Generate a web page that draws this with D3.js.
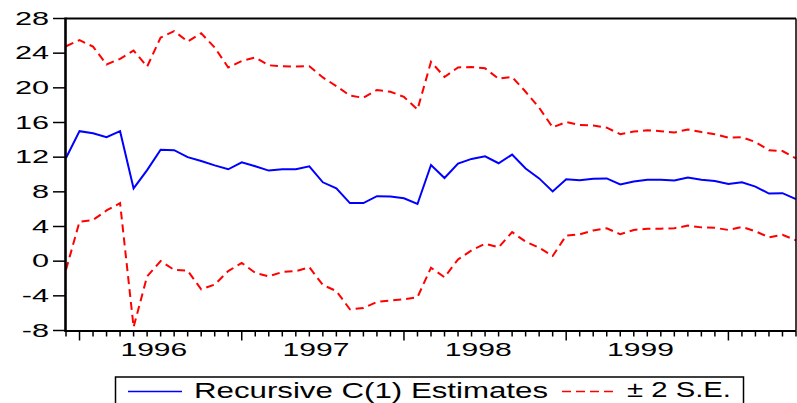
<!DOCTYPE html>
<html>
<head>
<meta charset="utf-8">
<script src="https://cdn.jsdelivr.net/npm/d3@7"></script>
<style>
  body { margin: 0; background: #fff; }
  text { font-family: "Liberation Sans", Arial, sans-serif; fill: #000; }
</style>
</head>
<body>
<script>
(function() {

    const width = 797;
    const height = 403;

    // monthly observations, Dec 1995 .. Jun 2000
    const startDate = new Date(1995, 11, 1);

    const recursiveC1 = [11.9, 15.0, 14.75, 14.3, 15.0, 8.4, 10.5, 12.85, 12.8, 12.0,
        11.55, 11.05, 10.6, 11.4, 10.95, 10.45, 10.6, 10.6, 10.95, 9.1,
        8.4, 6.7, 6.7, 7.5, 7.45, 7.25, 6.6, 11.1, 9.6, 11.25,
        11.8, 12.1, 11.3, 12.3, 10.7, 9.55, 8.05, 9.45, 9.35, 9.5,
        9.55, 8.85, 9.2, 9.4, 9.4, 9.3, 9.65, 9.4, 9.25, 8.9,
        9.1, 8.6, 7.8, 7.85, 7.15];

    const upperBand = [24.8, 25.5, 24.75, 22.7, 23.35, 24.3, 22.45, 25.8, 26.55, 25.35,
        26.3, 24.65, 22.35, 23.1, 23.5, 22.6, 22.5, 22.45, 22.5, 21.2,
        20.2, 19.1, 18.85, 19.75, 19.55, 18.95, 17.5, 23.0, 21.25, 22.35,
        22.4, 22.25, 21.05, 21.25, 19.55, 17.7, 15.45, 16.05, 15.7, 15.65,
        15.4, 14.65, 14.95, 15.1, 15.0, 14.85, 15.2, 14.9, 14.65, 14.25,
        14.3, 13.75, 12.8, 12.7, 11.85];

    const lowerBand = [-1.0, 4.55, 4.75, 5.85, 6.7, -7.6, -1.75, 0.0, -1.0, -1.1,
        -3.25, -2.7, -1.15, -0.2, -1.35, -1.75, -1.25, -1.15, -0.7, -2.75,
        -3.45, -5.55, -5.4, -4.7, -4.55, -4.4, -4.15, -0.75, -1.85, 0.2,
        1.25, 2.0, 1.6, 3.35, 2.25, 1.55, 0.6, 2.95, 3.1, 3.55,
        3.8, 3.1, 3.6, 3.75, 3.75, 3.8, 4.1, 3.9, 3.85, 3.6,
        3.95, 3.45, 2.75, 3.05, 2.4];

    const yTicks = [-8, -4, 0, 4, 8, 12, 16, 20, 24, 28];
    const yearLabels = ["1996", "1997", "1998", "1999"];
    const legendText = ["Recursive C(1) Estimates", "\u00b1 2 S.E."];

    const margin = {left: 66, right: 1, top: 18.5, bottom: 72.5};
    const plotW = width - margin.left - margin.right;
    const plotH = height - margin.top - margin.bottom;

    const dates = recursiveC1.map((d, i) => d3.timeMonth.offset(startDate, i));

    let x = d3.scaleLinear()
        .domain([0, recursiveC1.length - 1])
        .range([margin.left, width - margin.right]);

    let y = d3.scaleLinear()
        .domain([-8, 28])
        .range([margin.top + plotH, margin.top]);

    let svg = d3.select("body").append("svg")
        .attr("width", width)
        .attr("height", height);

    // stretched text, like the original export
    function stretchedText(g, tx, ty, str, anchor, sx, size) {
        g.append("text")
            .attr("transform", "translate(" + tx + "," + ty + ") scale(" + sx + ",1)")
            .attr("text-anchor", anchor)
            .style("font-size", size + "px")
            .text(str);
    }

    // y axis ticks and labels
    let yAxis = svg.append("g");
    yTicks.forEach(function(t) {
        yAxis.append("line")
            .attr("x1", margin.left - 13).attr("x2", margin.left)
            .attr("y1", y(t)).attr("y2", y(t))
            .attr("stroke", "#000").attr("stroke-width", 1.5);
        stretchedText(yAxis, 49, y(t) + 6.3, String(t), "end", 1.75, 17.5);
    });

    // x axis: one tick per month, longer at January
    let xAxis = svg.append("g");
    dates.forEach(function(d, i) {
        let isJan = d.getMonth() === 0;
        xAxis.append("line")
            .attr("x1", x(i)).attr("x2", x(i))
            .attr("y1", y(-8)).attr("y2", y(-8) + (isJan ? 10 : 6))
            .attr("stroke", "#000").attr("stroke-width", 1.5);
    });
    yearLabels.forEach(function(label) {
        let idx = dates.map((d, i) => d.getFullYear() === +label ? i : -1).filter(i => i >= 0);
        let cx = x((idx[0] + idx[idx.length - 1]) / 2);
        stretchedText(xAxis, cx, 356, label, "middle", 1.72, 17.5);
    });

    // lines
    let line = d3.line()
        .x((d, i) => x(i))
        .y(d => y(d));

    svg.append("path")
        .datum(upperBand)
        .attr("d", line)
        .attr("fill", "none")
        .attr("stroke", "#ff0000")
        .attr("stroke-width", 2)
        .attr("stroke-dasharray", "8,5");

    svg.append("path")
        .datum(lowerBand)
        .attr("d", line)
        .attr("fill", "none")
        .attr("stroke", "#ff0000")
        .attr("stroke-width", 2)
        .attr("stroke-dasharray", "8,5");

    svg.append("path")
        .datum(recursiveC1)
        .attr("d", line)
        .attr("fill", "none")
        .attr("stroke", "#0000ff")
        .attr("stroke-width", 2);

    // frame
    svg.append("line")
        .attr("x1", margin.left).attr("x2", width - margin.right)
        .attr("y1", margin.top).attr("y2", margin.top)
        .attr("stroke", "#000").attr("stroke-width", 1.8);
    svg.append("line")
        .attr("x1", width - margin.right).attr("x2", width - margin.right)
        .attr("y1", margin.top).attr("y2", y(-8))
        .attr("stroke", "#000").attr("stroke-width", 1.5);
    svg.append("line")
        .attr("x1", margin.left - 1).attr("x2", width - margin.right)
        .attr("y1", y(-8) + 0.5).attr("y2", y(-8) + 0.5)
        .attr("stroke", "#000").attr("stroke-width", 2.2);
    svg.append("line")
        .attr("x1", margin.left - 0.5).attr("x2", margin.left - 0.5)
        .attr("y1", margin.top - 1).attr("y2", y(-8) + 1.5)
        .attr("stroke", "#000").attr("stroke-width", 2.6);

    // legend
    let legend = svg.append("g");
    legend.append("rect")
        .attr("x", 115.5).attr("y", 377)
        .attr("width", 628).attr("height", 40)
        .attr("fill", "none")
        .attr("stroke", "#000").attr("stroke-width", 1.5);

    legend.append("line")
        .attr("x1", 128).attr("x2", 182)
        .attr("y1", 391.5).attr("y2", 391.5)
        .attr("stroke", "#0000ff").attr("stroke-width", 1.5);
    legend.append("text")
        .attr("x", 194).attr("y", 398)
        .attr("textLength", 354)
        .attr("lengthAdjust", "spacingAndGlyphs")
        .style("font-size", "22px")
        .text(legendText[0]);

    legend.append("line")
        .attr("x1", 562).attr("x2", 616)
        .attr("y1", 391.5).attr("y2", 391.5)
        .attr("stroke", "#ff0000").attr("stroke-width", 1.5)
        .attr("stroke-dasharray", "9,5");
    legend.append("text")
        .attr("x", 627).attr("y", 397)
        .attr("textLength", 104)
        .attr("lengthAdjust", "spacingAndGlyphs")
        .style("font-size", "22px")
        .text(legendText[1]);

})();
</script>
</body>
</html>
